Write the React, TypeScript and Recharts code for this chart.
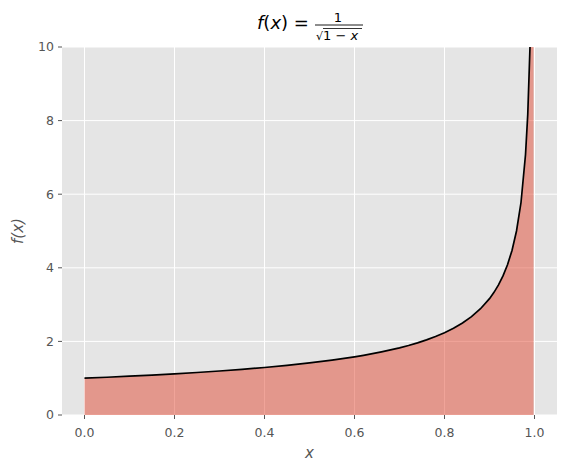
import React from "react";
import { ComposedChart, Area, Line, XAxis, YAxis, CartesianGrid, Label } from "recharts";

const xValues = [0, 0.05, 0.1, 0.15, 0.2, 0.25, 0.3, 0.35, 0.4, 0.45, 0.5, 0.55, 0.6, 0.62, 0.64, 0.66, 0.68, 0.7, 0.72, 0.74, 0.76, 0.78, 0.8, 0.82, 0.84, 0.86, 0.88, 0.9, 0.91, 0.92, 0.93, 0.94, 0.95, 0.96, 0.97, 0.98, 0.985, 0.99, 0.995, 0.998];
const yValues = [1.0, 1.026, 1.054, 1.085, 1.118, 1.155, 1.195, 1.24, 1.291, 1.348, 1.414, 1.491, 1.581, 1.622, 1.667, 1.715, 1.768, 1.826, 1.890, 1.961, 2.041, 2.132, 2.236, 2.357, 2.5, 2.673, 2.887, 3.162, 3.333, 3.536, 3.78, 4.082, 4.472, 5.0, 5.774, 7.071, 8.165, 10.0, 14.142, 22.361];
const xTicks = [0, 0.2, 0.4, 0.6, 0.8, 1.0];
const yTicks = [0, 2, 4, 6, 8, 10];

const data = xValues.map((x, i) => ({ x, y: yValues[i] }));

const FONT = "'DejaVu Sans', sans-serif";

export default function App() {
  return (
    <div style={{ position: "absolute", left: 0, top: 0, width: 567, height: 470, background: "#fff" }}>
      <ComposedChart width={567} height={470} data={data} margin={{ top: 47, right: 10, bottom: 20, left: 0 }}>
        <CartesianGrid fill="#E5E5E5" stroke="#ffffff" strokeWidth={1} horizontalValues={yTicks} verticalValues={xTicks} />
        <XAxis
          type="number"
          dataKey="x"
          domain={[-0.05, 1.05]}
          ticks={xTicks}
          allowDataOverflow
          tickFormatter={(v: number) => v.toFixed(1)}
          axisLine={false}
          tickLine={{ stroke: "#555555" }}
          tickSize={4}
          tickMargin={9}
          height={35}
          tick={{ fill: "#555555", fontSize: 12.5, fontFamily: FONT }}
        >
          <Label value="x" position="insideBottom" offset={-8} style={{ fill: "#555555", fontSize: 15, fontStyle: "italic", fontFamily: FONT }} />
        </XAxis>
        <YAxis
          type="number"
          domain={[0, 10]}
          ticks={yTicks}
          allowDataOverflow
          axisLine={false}
          tickLine={{ stroke: "#555555" }}
          tickSize={4}
          tickMargin={4}
          width={62}
          tick={{ fill: "#555555", fontSize: 12.5, fontFamily: FONT }}
        >
          <Label value="f(x)" angle={-90} position="insideLeft" offset={18} style={{ fill: "#555555", fontSize: 15, fontStyle: "italic", fontFamily: FONT, textAnchor: "middle" }} />
        </YAxis>
        <Area type="linear" dataKey="y" fill="#E24A33" fillOpacity={0.5} stroke="none" isAnimationActive={false} dot={false} activeDot={false} baseValue={0} />
        <Line type="linear" dataKey="y" stroke="#000000" strokeWidth={1.7} dot={false} activeDot={false} isAnimationActive={false} />
      </ComposedChart>
      <svg width={567} height={47} style={{ position: "absolute", left: 0, top: 0 }}>
        <text x={257} y={29} fontFamily={FONT} fontSize={18} fill="#000">
          <tspan fontStyle="italic">f</tspan>
          <tspan>(</tspan>
          <tspan fontStyle="italic">x</tspan>
          <tspan>) = </tspan>
        </text>
        <text x={338} y={22} fontFamily={FONT} fontSize={13} fill="#000" textAnchor="middle">1</text>
        <line x1={315} x2={363} y1={25} y2={25} stroke="#000" strokeWidth={0.9} />
        <text x={316} y={40} fontFamily={FONT} fontSize={13} fill="#000">
          <tspan fontSize={11}>√</tspan>
          <tspan>1 − </tspan>
          <tspan fontStyle="italic">x</tspan>
        </text>
        <line x1={323} x2={362} y1={28.5} y2={28.5} stroke="#000" strokeWidth={0.8} />
      </svg>
    </div>
  );
}
